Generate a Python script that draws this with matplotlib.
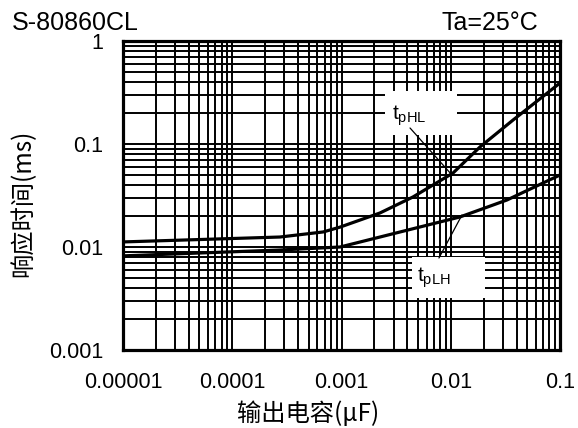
import numpy as np
import matplotlib
matplotlib.use('Agg')
import matplotlib.pyplot as plt
from matplotlib.patches import Rectangle
from matplotlib.ticker import LogLocator, FixedLocator, NullFormatter

plt.rcParams['font.family'] = ['Liberation Sans', 'Noto Sans CJK SC', 'DejaVu Sans']
plt.rcParams['mathtext.fontset'] = 'custom'
plt.rcParams['mathtext.rm'] = 'Liberation Sans'
plt.rcParams['mathtext.it'] = 'Liberation Sans'

# 읽어낸 데이터 (출력 용량 uF, 응답 시간 ms)
cap_phl = [0.00001, 0.000273, 0.00068, 0.00097, 0.00225, 0.00451, 0.0105, 0.0185, 0.0372, 0.1]
t_phl = [0.0112, 0.0125, 0.0140, 0.0156, 0.0214, 0.0306, 0.0523, 0.0935, 0.171, 0.391]

cap_plh = [0.00001, 0.000273, 0.00097, 0.00225, 0.0122, 0.0327, 0.1]
t_plh = [0.0082, 0.00935, 0.0100, 0.0125, 0.0196, 0.0286, 0.050]

x_ticks = [0.00001, 0.0001, 0.001, 0.01, 0.1]
x_labels = ['0.00001', '0.0001', '0.001', '0.01', '0.1']
y_ticks = [0.001, 0.01, 0.1, 1]
y_labels = ['0.001', '0.01', '0.1', '1']

cjk = ['Noto Sans CJK SC', 'DejaVu Sans']

fig = plt.figure(figsize=(5.78, 4.28), dpi=100)
ax = fig.add_axes([123 / 578, 1 - 350 / 428, 437 / 578, 309 / 428])

ax.set_xscale('log')
ax.set_yscale('log')
ax.set_xlim(0.00001, 0.1)
ax.set_ylim(0.001, 1)

# 격자: 주/보조 모두 검은 실선
ax.xaxis.set_major_locator(FixedLocator(x_ticks))
ax.yaxis.set_major_locator(FixedLocator(y_ticks))
ax.xaxis.set_minor_locator(LogLocator(base=10, subs=np.arange(2, 10)))
ax.yaxis.set_minor_locator(LogLocator(base=10, subs=np.arange(2, 10)))
ax.xaxis.set_minor_formatter(NullFormatter())
ax.yaxis.set_minor_formatter(NullFormatter())
ax.set_xticklabels(x_labels)
ax.set_yticklabels(y_labels)
ax.grid(True, which='both', color='black', linewidth=1.4)
ax.tick_params(which='both', length=0)
ax.tick_params(axis='x', pad=15.5, labelsize=15.5)
ax.tick_params(axis='y', pad=14, labelsize=15.5)
for s in ax.spines.values():
    s.set_linewidth(2.3)
    s.set_zorder(5)

ax.plot(cap_phl, t_phl, color='black', linewidth=2.3, zorder=3)
ax.plot(cap_plh, t_plh, color='black', linewidth=2.3, zorder=3)

# 곡선 라벨: 흰 박스 + 텍스트 + 지시선
ax.add_patch(Rectangle((0.0025, 0.122), 0.0114 - 0.0025, 0.327 - 0.122,
                       facecolor='white', edgecolor='none', zorder=2.5))
ax.add_patch(Rectangle((0.00442, 0.0032), 0.0206 - 0.00442, 0.0080 - 0.0032,
                       facecolor='white', edgecolor='none', zorder=2.5))
ax.text(0.0029, 0.171, r't$_{\mathrm{pHL}}$', fontsize=15, ha='left', va='baseline', zorder=4)
ax.text(0.00491, 0.00457, r't$_{\mathrm{pLH}}$', fontsize=15, ha='left', va='baseline', zorder=4)
ax.annotate('', xy=(0.01026, 0.050), xytext=(0.00424, 0.143),
            arrowprops=dict(arrowstyle='-', color='black', linewidth=0.9, shrinkA=0, shrinkB=0),
            zorder=4)
ax.annotate('', xy=(0.01268, 0.0205), xytext=(0.0078, 0.00782),
            arrowprops=dict(arrowstyle='-', color='black', linewidth=0.9, shrinkA=0, shrinkB=0),
            zorder=4)

# 축 제목과 상단 문구
fig.text(308 / 578, 1 - 414 / 428, '输出电容(μF)', fontsize=17.5, family=cjk, ha='center', va='center')
fig.text(23 / 578, 1 - 203 / 428, '响应时间(ms)', fontsize=17.5, family=cjk, ha='center', va='center',
         rotation=90)
fig.text(12 / 578, 1 - 23 / 428, 'S-80860CL', fontsize=18, ha='left', va='center')
fig.text(538 / 578, 1 - 23 / 428, 'Ta=25°C', fontsize=18, ha='right', va='center')

plt.savefig('out.png', dpi=100)
